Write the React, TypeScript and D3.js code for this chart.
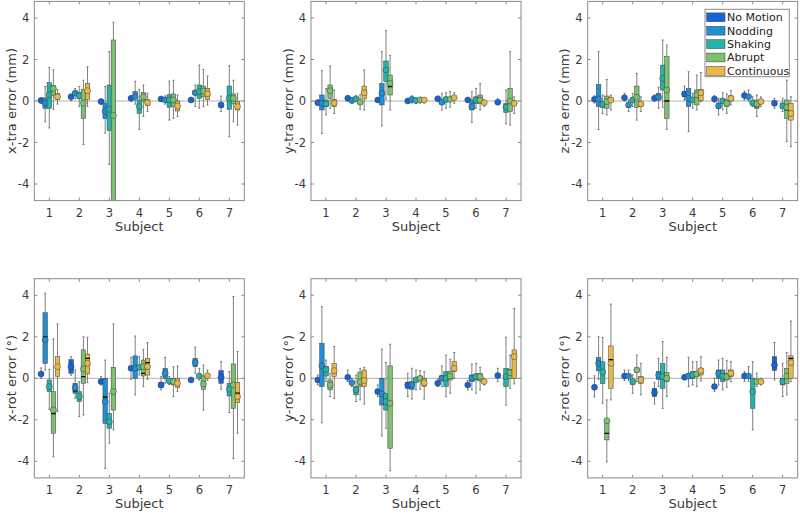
import React from "react";
import * as d3 from "d3";

// each entry: [whiskerLow, q1, median, q3, whiskerHigh, mean], null = no data
type Box = number[] | null;

const subjects = [1, 2, 3, 4, 5, 6, 7];
const conditions = ["No Motion", "Nodding", "Shaking", "Abrupt", "Continuous"];
const colors = ["#1464da", "#1f8fd6", "#26b2a9", "#7cc170", "#e8b84a"];
const yTicks = [-4, -2, 0, 2, 4];

const xTra: Box[][] = [
  [[-0.1, -0.02, 0.02, 0.07, 0.15, 0.03], [-1.0, -0.35, -0.1, 0.15, 0.7, -0.1], [-1.3, -0.35, 0.25, 0.88, 1.62, 0.3], [-0.4, 0.28, 0.55, 0.75, 1.5, 0.6], [-0.15, 0.08, 0.2, 0.35, 0.55, 0.2]],
  [[0.02, 0.14, 0.2, 0.26, 0.32, 0.2], [0.1, 0.3, 0.38, 0.45, 0.6, 0.38], [-0.27, 0.12, 0.25, 0.4, 0.7, 0.25], [-2.1, -0.84, -0.05, 0.56, 1.0, -0.1], [-0.27, 0.08, 0.55, 0.85, 1.65, 0.5]],
  [[-0.15, -0.08, -0.03, 0.02, 0.1, -0.03], [-1.55, -0.85, -0.45, -0.1, 0.7, -0.5], [-3.05, -1.43, -0.35, 0.77, 2.38, -0.4], [-9, -5.5, -0.65, 2.94, 3.8, -0.7], null],
  [[0.0, 0.08, 0.13, 0.18, 0.25, 0.13], [-0.15, 0.12, 0.25, 0.45, 0.95, 0.2], [-1.37, -0.6, -0.3, 0.05, 0.56, -0.27], [-0.75, -0.03, 0.15, 0.4, 0.77, 0.2], [-0.5, -0.22, -0.08, 0.06, 0.37, -0.08]],
  [[0.0, 0.05, 0.1, 0.15, 0.2, 0.1], [-0.15, -0.02, 0.05, 0.1, 0.25, 0.05], [-0.92, -0.3, 0.05, 0.3, 0.96, 0.05], [-0.84, -0.27, 0.05, 0.34, 1.0, 0.05], [-0.75, -0.48, -0.24, 0.0, 0.29, -0.24]],
  [[-0.05, 0.0, 0.05, 0.08, 0.15, 0.05], [-0.27, 0.3, 0.4, 0.5, 0.77, 0.4], [-0.35, 0.13, 0.45, 0.77, 1.73, 0.45], [-0.27, 0.2, 0.45, 0.72, 1.52, 0.48], [-0.19, 0.08, 0.35, 0.6, 1.2, 0.35]],
  [[-0.5, -0.3, -0.2, -0.1, 0.24, -0.19], null, [-1.72, -0.4, 0.1, 0.72, 1.7, 0.13], [-1.0, -0.14, 0.1, 0.34, 1.0, 0.13], [-1.16, -0.43, -0.27, -0.03, 0.37, -0.27]],
];

const yTra: Box[][] = [
  [[-0.2, -0.12, -0.08, -0.03, 0.05, -0.08], [-1.56, -0.43, -0.1, 0.29, 1.46, -0.11], [-0.67, -0.27, -0.14, 0.05, 0.6, -0.14], [-0.35, 0.13, 0.55, 0.77, 1.69, 0.5], [-0.6, -0.27, -0.1, 0.08, 0.53, -0.1]],
  [[0.0, 0.08, 0.13, 0.18, 0.25, 0.13], [-0.1, -0.02, 0.02, 0.06, 0.15, 0.02], [0.0, 0.06, 0.11, 0.16, 0.25, 0.11], [-0.4, -0.15, -0.06, 0.03, 0.3, -0.06], [-0.43, 0.1, 0.5, 0.72, 1.5, 0.4]],
  [[-0.05, 0.0, 0.05, 0.1, 0.15, 0.05], [-1.2, -0.19, 0.3, 0.85, 2.38, 0.37], [0.08, 0.93, 1.45, 1.93, 3.39, 1.5], [-0.43, 0.29, 0.7, 1.25, 2.2, 0.85], null],
  [[-0.1, -0.04, 0.0, 0.04, 0.12, 0.0], [-0.1, 0.03, 0.08, 0.12, 0.25, 0.08], [-0.12, -0.03, 0.02, 0.06, 0.15, 0.02], [-0.1, 0.0, 0.05, 0.1, 0.18, 0.05], [-0.1, 0.0, 0.05, 0.1, 0.15, 0.05]],
  [[0.0, 0.07, 0.11, 0.15, 0.22, 0.11], [-0.43, -0.15, -0.06, 0.05, 0.37, -0.06], [-0.35, -0.05, 0.08, 0.18, 0.4, 0.08], [-0.3, 0.0, 0.08, 0.15, 0.45, 0.08], [-0.11, 0.08, 0.16, 0.25, 0.4, 0.16]],
  [[-0.05, 0.0, 0.05, 0.08, 0.12, 0.05], [-1.03, -0.43, -0.27, 0.05, 0.45, -0.27], [-0.35, -0.11, 0.05, 0.2, 0.6, 0.05], [-0.43, -0.11, 0.13, 0.29, 0.85, 0.05], [-0.25, -0.12, -0.08, -0.03, 0.05, -0.08]],
  [[-0.15, -0.1, -0.06, -0.02, 0.1, -0.06], null, [-1.1, -0.56, -0.3, -0.11, 0.53, -0.3], [-1.16, -0.51, 0.05, 0.61, 2.38, 0.0], [-0.6, -0.2, -0.11, 0.0, 0.2, -0.11]],
];

const zTra: Box[][] = [
  [[-0.1, 0.02, 0.08, 0.12, 0.25, 0.08], [-1.37, -0.27, 0.15, 0.8, 2.38, 0.1], [-0.6, -0.3, -0.16, -0.05, 0.29, -0.16], [-0.67, -0.35, -0.05, 0.24, 1.04, -0.03], [-0.43, 0.0, 0.05, 0.15, 0.29, 0.05]],
  [[0.0, 0.1, 0.16, 0.22, 0.37, 0.16], [-0.51, -0.3, -0.19, -0.1, 0.05, -0.19], [-0.27, 0.0, 0.05, 0.15, 0.37, 0.05], [-0.92, -0.3, 0.15, 0.72, 1.33, 0.18], [-0.51, -0.25, -0.14, -0.05, 0.2, -0.14]],
  [[0.0, 0.08, 0.13, 0.18, 0.3, 0.13], [-0.35, 0.05, 0.18, 0.37, 0.66, 0.18], [-0.3, 0.53, 1.0, 1.73, 2.94, 1.09], [-1.37, -0.84, 0.0, 2.14, 2.7, 0.53], null],
  [[0.05, 0.2, 0.34, 0.45, 0.72, 0.34], [-1.48, -0.27, 0.1, 0.61, 1.41, 0.13], [-0.35, -0.05, 0.05, 0.15, 0.37, 0.05], [-0.43, -0.19, 0.2, 0.53, 1.25, 0.29], [-0.03, 0.02, 0.4, 0.56, 1.37, 0.4]],
  [[-0.05, 0.05, 0.1, 0.15, 0.25, 0.1], [-0.67, -0.35, -0.24, -0.1, 0.13, -0.24], [-0.43, -0.1, 0.0, 0.1, 0.4, 0.0], [-0.6, -0.27, -0.11, 0.05, 0.34, -0.11], [-0.19, 0.0, 0.13, 0.25, 0.5, 0.13]],
  [[0.05, 0.18, 0.26, 0.32, 0.48, 0.26], [0.0, 0.15, 0.21, 0.27, 0.53, 0.21], [-0.27, -0.2, -0.08, 0.0, 0.2, -0.08], [-0.75, -0.35, -0.27, 0.05, 0.29, -0.15], [-0.27, -0.1, -0.03, 0.03, 0.2, -0.03]],
  [[-0.35, -0.2, -0.11, 0.0, 0.13, -0.11], null, [-0.51, -0.35, -0.24, -0.1, 0.13, -0.24], [-1.96, -0.84, -0.43, 0.05, 1.0, -0.3], [-2.2, -0.92, -0.67, -0.11, 0.2, -0.6]],
];

const xRot: Box[][] = [
  [[0.0, 0.15, 0.21, 0.28, 0.5, 0.21], [0.4, 0.72, 2.0, 3.16, 4.1, 1.85], [-1.5, -0.64, -0.4, -0.08, 0.43, -0.4], [-3.78, -2.65, -1.7, -0.64, 1.9, -1.53], [-1.6, 0.1, 0.6, 1.04, 2.62, 0.56]],
  [[0.15, 0.24, 0.55, 0.9, 1.04, 0.56], [-0.96, -0.72, -0.6, -0.24, 0.4, -0.45], [-1.85, -1.12, -0.88, -0.64, -0.16, -0.88], [-1.77, -0.24, 0.08, 1.37, 2.0, 0.45], [-0.21, 0.21, 0.96, 1.17, 1.98, 0.72]],
  [[-0.32, -0.22, -0.16, -0.1, 0.08, -0.16], [-4.34, -2.17, -0.9, 0.0, 0.88, -1.12], [-3.13, -2.41, -2.05, -1.69, -0.72, -2.09], [-2.49, -1.53, -0.56, 0.53, 2.62, -0.64], null],
  [[-0.05, 0.4, 0.48, 0.56, 1.01, 0.48], [-0.8, 0.0, 0.5, 1.08, 2.04, 0.48], [0.16, 0.42, 0.53, 0.62, 1.04, 0.53], [-0.4, 0.11, 0.24, 0.88, 1.4, 0.56], [-0.05, 0.16, 0.76, 0.96, 1.72, 0.56]],
  [[-0.56, -0.45, -0.32, -0.2, 0.08, -0.32], [-0.24, 0.0, 0.24, 0.48, 1.01, 0.24], [-0.3, -0.2, -0.13, -0.06, 0.08, -0.13], [-0.88, -0.32, -0.16, 0.0, 0.56, -0.16], [-0.64, -0.43, -0.24, 0.0, 0.6, -0.24]],
  [[-0.15, -0.12, -0.08, -0.04, 0.0, -0.08], [0.24, 0.56, 0.76, 0.96, 1.5, 0.76], [-0.08, 0.05, 0.11, 0.16, 0.48, 0.11], [-1.53, -0.53, -0.2, 0.11, 0.64, -0.27], [-0.1, 0.08, 0.13, 0.18, 0.4, 0.13]],
  [[-0.53, -0.24, 0.05, 0.37, 0.8, 0.05], null, [-1.65, -0.85, -0.53, -0.24, 0.32, -0.53], [-3.86, -1.45, -0.35, 0.69, 3.94, -0.32], [-2.65, -1.17, -0.72, -0.21, 1.29, -0.88]],
];

const yRot: Box[][] = [
  [[-0.32, -0.14, -0.08, -0.02, 0.16, -0.08], [-2.14, -0.4, 0.55, 1.69, 3.45, 0.6], [-0.16, 0.11, 0.43, 0.56, 0.88, 0.43], [-0.88, -0.56, -0.35, -0.08, 0.24, -0.32], [-0.96, 0.08, 0.35, 0.72, 1.53, 0.37]],
  [[-0.15, 0.0, 0.05, 0.1, 0.4, 0.05], [-0.4, -0.26, -0.21, -0.15, 0.0, -0.21], [-1.12, -0.8, -0.56, -0.4, 0.16, -0.56], [-1.04, -0.4, -0.15, 0.3, 0.48, -0.16], [-1.24, -0.4, -0.15, 0.4, 0.53, -0.11]],
  [[-0.88, -0.75, -0.64, -0.55, -0.32, -0.64], [-2.78, -1.29, -0.72, 0.0, 1.4, -0.75], [-2.41, -1.53, -1.1, -0.72, 0.76, -1.12], [-4.45, -3.37, -1.2, 0.6, 1.64, -1.2], null],
  [[-0.88, -0.48, -0.35, -0.21, 0.24, -0.32], [-1.0, -0.53, -0.32, -0.16, 0.48, -0.32], [-0.56, -0.15, -0.08, 0.0, 0.4, -0.08], [-0.53, -0.1, 0.0, 0.1, 0.37, 0.0], [-1.0, -0.4, -0.21, 0.0, 0.32, -0.21]],
  [[-0.4, -0.3, -0.24, -0.18, -0.05, -0.24], [-0.4, -0.12, 0.0, 0.12, 0.6, 0.0], [-0.88, -0.4, 0.0, 0.32, 1.12, 0.0], [-0.72, -0.08, 0.11, 0.32, 0.92, 0.11], [0.0, 0.32, 0.48, 0.8, 1.24, 0.48]],
  [[-0.56, -0.4, -0.32, -0.25, -0.1, -0.32], [-0.56, -0.16, 0.0, 0.16, 0.69, 0.0], [-0.72, -0.08, 0.08, 0.21, 0.72, 0.08], [-0.56, -0.13, 0.08, 0.24, 0.53, 0.08], [-0.32, -0.22, -0.16, -0.1, 0.0, -0.16]],
  [[-0.16, 0.05, 0.13, 0.2, 0.48, 0.13], null, [-1.29, -0.4, 0.1, 0.48, 1.98, 0.08], [-0.48, 0.0, 0.25, 0.43, 1.12, 0.27], [-0.27, 0.0, 1.08, 1.37, 3.37, 1.05]],
];

const zRot: Box[][] = [
  [[-0.9, -0.52, -0.43, -0.33, 0.12, -0.43], [-0.05, 0.36, 0.72, 1.0, 2.0, 0.72], [-1.2, -0.26, 0.3, 0.79, 1.97, 0.3], [-4.02, -2.97, -2.65, -2.01, -1.04, -2.04], [-1.04, -0.48, 0.9, 1.56, 3.58, 0.72]],
  [[-0.1, 0.05, 0.11, 0.18, 0.4, 0.11], [-0.1, 0.05, 0.11, 0.16, 0.4, 0.11], [-0.72, -0.3, -0.16, -0.05, 0.16, -0.16], [-0.16, 0.28, 0.4, 0.5, 1.12, 0.4], [-0.8, -0.24, -0.08, 0.08, 0.72, -0.08]],
  [[-1.24, -0.88, -0.69, -0.48, -0.21, -0.69], [-0.4, -0.05, 0.16, 0.32, 0.96, 0.16], [-1.45, -0.48, 0.0, 0.72, 1.77, 0.08], [-0.88, -0.16, 0.02, 0.27, 1.01, 0.0], null],
  [[-0.05, 0.0, 0.05, 0.1, 0.15, 0.05], [-0.4, 0.0, 0.11, 0.24, 1.01, 0.11], [-0.32, 0.0, 0.16, 0.32, 0.8, 0.16], [-0.4, 0.08, 0.21, 0.32, 0.8, 0.21], [-0.13, 0.16, 0.37, 0.48, 1.04, 0.37]],
  [[-0.64, -0.5, -0.4, -0.3, 0.0, -0.4], [-0.32, 0.0, 0.24, 0.4, 0.88, 0.24], [-0.56, -0.16, 0.11, 0.4, 0.96, 0.11], [-0.43, -0.08, 0.08, 0.24, 0.85, 0.08], [-0.16, 0.08, 0.24, 0.4, 0.8, 0.24]],
  [[-0.15, 0.05, 0.11, 0.16, 0.32, 0.11], [-0.15, 0.05, 0.11, 0.16, 0.56, 0.11], [-2.49, -1.45, -0.56, 0.0, 0.8, -0.64], [-0.4, -0.25, -0.16, -0.05, 0.24, -0.16], [-0.32, -0.22, -0.16, -0.1, 0.0, -0.16]],
  [[-0.08, 0.37, 0.7, 1.04, 1.72, 0.64], null, [-0.88, -0.32, -0.16, 0.0, 0.72, -0.16], [-0.8, -0.24, 0.11, 0.48, 1.24, 0.11], [-0.16, 0.0, 0.96, 1.08, 2.76, 0.76]],
];

const panels = [
  { id: "xtra", label: "x-tra error (mm)", data: xTra },
  { id: "ytra", label: "y-tra error (mm)", data: yTra },
  { id: "ztra", label: "z-tra error (mm)", data: zTra },
  { id: "xrot", label: "x-rot error (°)", data: xRot },
  { id: "yrot", label: "y-rot error (°)", data: yRot },
  { id: "zrot", label: "z-rot error (°)", data: zRot },
];

const W = 800;
const H = 514;
const colLeft = [34.3, 311, 587.7];
const rowTop = [1.4, 278.7];
const plotW = 210;
const plotH = 199.2;
const font = "DejaVu Sans, sans-serif";
const textColor = "#3a3a3a";
const frameColor = "#8a8a8a";

function Panel({ id, label, data, left, top }) {
  const x = d3.scaleLinear().domain([0.5, 7.5]).range([left, left + plotW]);
  const y = d3.scaleLinear().domain([-4.8, 4.8]).range([top + plotH, top]);
  const step = 0.137;
  const bw = x(0.15) - x(0);
  const tk = 3;

  return (
    <g>
      <defs>
        <clipPath id={"clip-" + id}>
          <rect x={left} y={top} width={plotW} height={plotH} />
        </clipPath>
      </defs>
      <rect x={left} y={top} width={plotW} height={plotH} fill="#fff" />
      <line x1={left} x2={left + plotW} y1={y(0)} y2={y(0)} stroke="#a8a8a8" strokeWidth={0.9} />
      <g clipPath={`url(#clip-${id})`}>
        {data.map((row, si) =>
          row.map((b, k) => {
            if (!b) return null;
            const cx = x(subjects[si] + (k - 2) * step);
            const [lo, q1, med, q3, hi, mean] = b;
            return (
              <g key={si + "-" + k}>
                <line x1={cx} x2={cx} y1={y(hi)} y2={y(q3)} stroke="#606060" strokeWidth={0.8} />
                <line x1={cx} x2={cx} y1={y(q1)} y2={y(lo)} stroke="#606060" strokeWidth={0.8} />
                <line x1={cx - 1} x2={cx + 1} y1={y(hi)} y2={y(hi)} stroke="#606060" strokeWidth={0.8} />
                <line x1={cx - 1} x2={cx + 1} y1={y(lo)} y2={y(lo)} stroke="#606060" strokeWidth={0.8} />
                <rect
                  x={cx - bw / 2}
                  y={y(q3)}
                  width={bw}
                  height={Math.max(y(q1) - y(q3), 0.5)}
                  fill={colors[k]}
                  stroke="#3c3c3c"
                  strokeWidth={0.5}
                />
                <line x1={cx - bw / 2} x2={cx + bw / 2} y1={y(med)} y2={y(med)} stroke="#000" strokeWidth={1.3} />
                <circle cx={cx} cy={y(mean)} r={3} fill={colors[k]} stroke="#3c3c3c" strokeWidth={0.5} />
              </g>
            );
          })
        )}
      </g>
      <rect x={left} y={top} width={plotW} height={plotH} fill="none" stroke={frameColor} strokeWidth={1} />
      {yTicks.map((t) => (
        <g key={"y" + t}>
          <line x1={left} x2={left + tk} y1={y(t)} y2={y(t)} stroke={frameColor} />
          <line x1={left + plotW} x2={left + plotW - tk} y1={y(t)} y2={y(t)} stroke={frameColor} />
          <text x={left - 5} y={y(t)} dy="0.36em" textAnchor="end" fontSize={11.5} fill={textColor} fontFamily={font}>
            {t}
          </text>
        </g>
      ))}
      {subjects.map((s) => (
        <g key={"x" + s}>
          <line x1={x(s)} x2={x(s)} y1={top + plotH} y2={top + plotH - tk} stroke={frameColor} />
          <line x1={x(s)} x2={x(s)} y1={top} y2={top + tk} stroke={frameColor} />
          <text x={x(s)} y={top + plotH + 16} textAnchor="middle" fontSize={11.5} fill={textColor} fontFamily={font}>
            {s}
          </text>
        </g>
      ))}
      <text
        x={left + plotW / 2}
        y={top + plotH + 30.5}
        textAnchor="middle"
        fontSize={13}
        fill={textColor}
        fontFamily={font}
      >
        Subject
      </text>
      <text
        transform={`translate(${left - 18.5},${top + plotH / 2}) rotate(-90)`}
        textAnchor="middle"
        fontSize={13}
        fill={textColor}
        fontFamily={font}
      >
        {label}
      </text>
    </g>
  );
}

function Legend() {
  const lx = 705;
  const ly = 9.3;
  const rowH = 13.4;
  return (
    <g>
      <rect x={lx} y={ly} width={84.3} height={67.4} fill="#fff" stroke={frameColor} strokeWidth={1} />
      {conditions.map((c, i) => {
        const cy = ly + 8 + i * rowH;
        return (
          <g key={c}>
            <rect x={lx + 1.7} y={cy - 4.4} width={18.3} height={8.8} fill={colors[i]} stroke="#3c3c3c" strokeWidth={0.5} />
            <text x={lx + 22} y={cy} dy="0.36em" fontSize={11} fill="#222" fontFamily={font}>
              {c}
            </text>
          </g>
        );
      })}
    </g>
  );
}

export default function App() {
  return (
    <svg
      width={W}
      height={H}
      style={{ position: "absolute", left: 0, top: 0, background: "#fff" }}
    >
      {panels.map((p, i) => (
        <Panel
          key={p.id}
          id={p.id}
          label={p.label}
          data={p.data}
          left={colLeft[i % 3]}
          top={rowTop[Math.floor(i / 3)]}
        />
      ))}
      <Legend />
    </svg>
  );
}
